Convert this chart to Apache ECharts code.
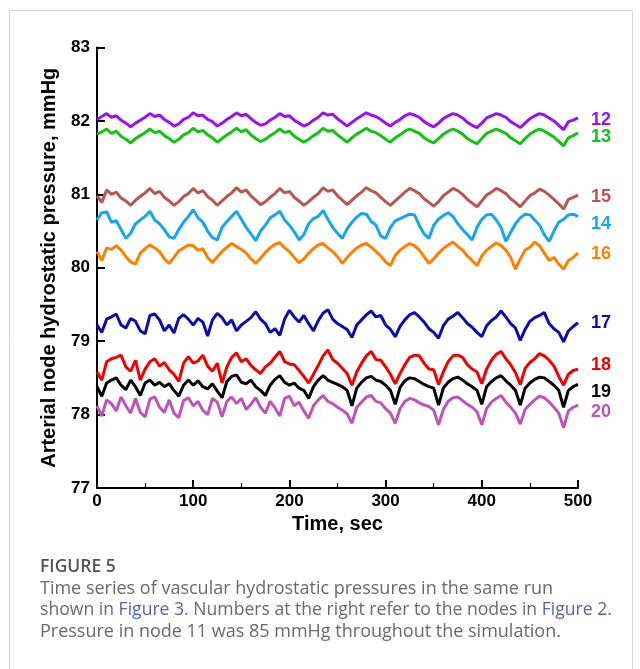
<!DOCTYPE html>
<html><head><meta charset="utf-8">
<script src="https://cdn.jsdelivr.net/npm/echarts@6/dist/echarts.min.js"></script>
<style>html,body{margin:0;padding:0;background:#fff}#c{width:640px;height:669px}</style>
</head><body><div id="c"></div>
<script>
const times = [0,5,10,15,20,25,30,35,40,45,50,55,60,65,70,75,80,85,90,95,
100,105,110,115,120,125,130,135,140,145,150,155,160,165,170,175,180,185,190,195,
200,205,210,215,220,225,230,235,240,245,250,255,260,265,270,275,280,285,290,295,
300,305,310,315,320,325,330,335,340,345,350,355,360,365,370,375,380,385,390,395,
400,405,410,415,420,425,430,435,440,445,450,455,460,465,470,475,480,485,490,495,500];

const node12 = [82.02,82.06,82.10,82.05,82.07,82.01,81.97,81.92,81.97,82.01,
82.05,82.10,82.06,82.08,82.02,81.98,81.93,81.96,82.02,82.05,
82.11,82.07,82.08,82.02,81.99,81.93,81.97,82.02,82.06,82.11,
82.07,82.09,82.03,81.98,81.94,81.96,82.01,82.05,82.10,82.06,
82.07,82.01,81.97,81.93,81.96,82.01,82.05,82.11,82.08,82.09,
82.03,81.98,81.93,81.98,82.03,82.07,82.11,82.08,82.06,82.02,
81.97,81.93,81.98,82.02,82.07,82.10,82.08,82.05,81.99,81.95,
81.92,81.97,82.03,82.07,82.10,82.08,82.04,81.98,81.94,81.91,
81.97,82.04,82.07,82.10,82.08,82.05,81.99,81.95,81.91,81.97,
82.03,82.07,82.10,82.08,82.04,82.00,81.94,81.88,81.99,82.01,82.04];

const node13 = [81.82,81.85,81.89,81.83,81.86,81.79,81.75,81.70,81.76,81.80,
81.84,81.89,81.84,81.86,81.80,81.76,81.71,81.75,81.81,81.84,
81.90,81.85,81.87,81.81,81.77,81.71,81.76,81.81,81.85,81.90,
81.85,81.88,81.81,81.76,81.72,81.75,81.80,81.84,81.89,81.84,
81.86,81.79,81.75,81.71,81.75,81.80,81.84,81.90,81.86,81.87,
81.81,81.76,81.71,81.77,81.82,81.86,81.90,81.86,81.84,81.80,
81.75,81.71,81.77,81.81,81.86,81.89,81.86,81.83,81.77,81.73,
81.70,81.76,81.82,81.86,81.89,81.86,81.82,81.76,81.72,81.69,
81.76,81.83,81.86,81.89,81.86,81.83,81.77,81.73,81.69,81.76,
81.82,81.86,81.89,81.86,81.82,81.78,81.72,81.66,81.77,81.80,81.84];

const node15 = [80.98,80.89,81.06,81.00,81.03,80.95,80.91,80.85,80.92,80.97,
81.02,81.08,81.01,81.04,80.96,80.91,80.85,80.90,80.97,81.01,
81.08,81.02,81.05,80.97,80.92,80.85,80.91,80.97,81.02,81.09,
81.03,81.06,80.98,80.92,80.86,80.90,80.96,81.01,81.08,81.02,
81.04,80.96,80.91,80.85,80.90,80.96,81.01,81.09,81.04,81.06,
80.98,80.92,80.86,80.92,80.98,81.03,81.09,81.05,81.02,80.96,
80.90,80.85,80.91,80.97,81.03,81.08,81.05,81.01,80.94,80.89,
80.84,80.90,80.98,81.03,81.08,81.05,81.00,80.93,80.88,80.83,
80.91,80.99,81.03,81.08,81.05,81.01,80.94,80.89,80.83,80.91,
80.98,81.02,81.07,81.04,80.99,80.93,80.87,80.80,80.93,80.96,80.99];

const node14 = [80.65,80.75,80.76,80.62,80.64,80.52,80.40,80.47,80.60,80.65,
80.70,80.77,80.65,80.60,80.52,80.42,80.40,80.52,80.62,80.70,
80.79,80.68,80.62,80.50,80.41,80.38,80.55,80.63,80.70,80.77,
80.66,80.55,80.46,80.37,80.50,80.58,80.68,80.72,80.77,80.65,
80.58,80.49,80.38,80.45,80.60,80.67,80.70,80.78,80.66,80.55,
80.47,80.40,80.53,80.62,80.69,80.74,80.73,80.63,80.58,80.43,
80.40,80.55,80.64,80.67,80.70,80.73,80.72,80.58,80.46,80.40,
80.58,80.66,80.71,80.75,80.70,80.60,80.52,80.45,80.38,80.55,
80.66,80.72,80.73,80.65,80.55,80.36,80.48,80.60,80.68,80.73,
80.72,80.65,80.58,80.45,80.36,80.50,80.62,80.66,80.72,80.73,80.70];

const node16 = [80.22,80.10,80.27,80.25,80.30,80.24,80.15,80.08,80.05,80.20,
80.26,80.31,80.27,80.22,80.12,80.06,80.14,80.23,80.27,80.31,
80.30,80.24,80.26,80.14,80.07,80.15,80.22,80.28,80.33,80.29,
80.25,80.20,80.12,80.06,80.13,80.21,80.27,80.32,80.34,80.27,
80.22,80.14,80.07,80.12,80.20,80.26,80.31,80.33,80.27,80.22,
80.15,80.06,80.14,80.21,80.27,80.31,80.33,80.28,80.22,80.16,
80.08,80.03,80.17,80.24,80.29,80.33,80.30,80.24,80.15,80.06,
80.12,80.20,80.26,80.31,80.35,80.29,80.24,80.16,80.10,80.03,
80.16,80.24,80.29,80.34,80.30,80.24,80.14,79.98,80.12,80.24,
80.28,80.35,80.30,80.20,80.10,80.14,80.05,79.98,80.10,80.14,80.20];

const node17 = [79.22,79.12,79.30,79.33,79.37,79.22,79.18,79.31,79.27,79.14,
79.10,79.35,79.37,79.29,79.14,79.22,79.11,79.31,79.36,79.30,
79.22,79.31,79.26,79.07,79.29,79.38,79.32,79.22,79.29,79.14,
79.22,79.27,79.32,79.40,79.30,79.24,79.12,79.17,79.08,79.30,
79.42,79.33,79.26,79.35,79.24,79.14,79.28,79.38,79.43,79.30,
79.24,79.20,79.16,79.05,79.22,79.29,79.36,79.41,79.33,79.35,
79.22,79.16,79.06,79.20,79.29,79.36,79.39,79.33,79.26,79.17,
79.12,79.04,79.21,79.30,79.34,79.39,79.32,79.24,79.19,79.12,
79.06,79.21,79.28,79.33,79.41,79.33,79.24,79.18,79.01,79.16,
79.27,79.32,79.35,79.39,79.24,79.17,79.12,78.99,79.14,79.20,79.25];

const node18 = [78.58,78.47,78.72,78.76,78.78,78.81,78.65,78.59,78.74,78.47,
78.62,78.72,78.76,78.66,78.71,78.61,78.55,78.45,78.70,78.79,
78.70,78.73,78.81,78.66,78.59,78.70,78.43,78.65,78.78,78.84,
78.72,78.76,78.67,78.61,78.56,78.65,78.70,78.78,78.86,78.72,
78.69,78.68,78.60,78.52,78.43,78.55,78.67,78.80,78.88,78.75,
78.70,78.63,78.56,78.40,78.58,78.70,78.80,78.86,78.75,78.74,
78.65,78.55,78.42,78.56,78.68,78.78,78.81,78.80,78.70,78.62,
78.61,78.41,78.58,78.72,78.80,78.81,78.78,78.68,78.62,78.58,
78.42,78.62,78.74,78.82,78.86,78.76,78.68,78.57,78.41,78.63,
78.71,78.76,78.83,78.80,78.74,78.66,78.52,78.40,78.55,78.60,78.62];

const node19 = [78.38,78.25,78.43,78.47,78.50,78.40,78.34,78.47,78.38,78.26,
78.43,78.47,78.40,78.44,78.38,78.42,78.33,78.25,78.40,78.47,
78.40,78.46,78.38,78.35,78.42,78.32,78.23,78.45,78.52,78.54,
78.44,78.42,78.47,78.38,78.33,78.26,78.40,78.48,78.53,78.44,
78.40,78.43,78.36,78.33,78.22,78.38,78.47,78.53,78.47,78.44,
78.41,78.38,78.33,78.12,78.36,78.44,78.50,78.52,78.47,78.45,
78.40,78.33,78.14,78.37,78.46,78.50,78.49,78.45,78.41,78.38,
78.36,78.13,78.36,78.44,78.49,78.51,78.47,78.42,78.38,78.33,
78.14,78.38,78.45,78.50,78.53,78.46,78.40,78.33,78.13,78.36,
78.43,78.48,78.51,78.50,78.45,78.40,78.33,78.10,78.33,78.38,78.41];

const node20 = [78.12,77.98,78.20,78.15,78.05,78.24,78.12,78.02,78.22,78.03,
77.97,78.21,78.24,78.10,78.03,78.20,78.02,77.96,78.19,78.23,
78.12,78.18,78.06,78.00,78.22,78.17,77.97,78.18,78.24,78.15,
78.22,78.07,78.14,78.23,78.10,78.02,78.18,78.09,77.98,78.22,
78.25,78.12,78.17,78.05,77.95,78.12,78.20,78.26,78.18,78.15,
78.10,78.06,78.01,77.88,78.10,78.17,78.24,78.26,78.18,78.16,
78.08,78.02,77.88,78.08,78.18,78.22,78.20,78.16,78.13,78.11,
78.06,77.86,78.07,78.18,78.23,78.24,78.19,78.14,78.10,78.04,
77.86,78.08,78.17,78.22,78.26,78.17,78.10,78.02,77.87,78.07,
78.14,78.20,78.25,78.23,78.17,78.10,78.02,77.82,78.05,78.10,78.13];

const nodeNames = ['12','13','15','14','16','17','18','19','20'];
const nodeValues = [node12,node13,node15,node14,node16,node17,node18,node19,node20];
const labelLevels = [82.01,81.78,80.97,80.59,80.19,79.25,78.67,78.31,78.04];
const colors = ['#9a12ee','#12c412','#b95652','#13a6f2','#ff8000','#0c0caa','#f20000','#000000','#bd55b9'];
const xTicks = {min:0, max:500, interval:100};
const yTicks = {min:77, max:83, interval:1};

const chart = echarts.init(document.getElementById('c'), null, {renderer:'canvas'});
const FONT = '"Liberation Sans", Arial, Helvetica, sans-serif';
const CAP = '"Open Sans", sans-serif';

const series = nodeNames.map((name, k) => ({
  type:'line', name:name, showSymbol:false, symbol:'none',
  data: times.map((t,i) => [t, nodeValues[k][i]]),
  lineStyle:{color:colors[k], width:3}, itemStyle:{color:colors[k]},
  z: 2, silent:true,
  markPoint:{
    symbol:'circle', symbolSize:0, silent:true, animation:false,
    itemStyle:{color:'transparent'},
    data:[{coord:[xTicks.max, labelLevels[k]]}],
    label:{show:true, position:'right', distance:13, formatter:name,
      color:colors[k], fontWeight:'bold', fontSize:18, fontFamily:FONT}
  }
}));

const axisCommon = {
  type:'value',
  axisLine:{show:true, onZero:false, lineStyle:{color:'#000', width:2}},
  axisTick:{show:true, inside:true, length:8, lineStyle:{color:'#000', width:2}},
  axisLabel:{color:'#000', fontWeight:'bold', fontSize:17, fontFamily:FONT},
  splitLine:{show:false},
  nameLocation:'middle',
  nameTextStyle:{color:'#000', fontWeight:'bold', fontSize:20, fontFamily:FONT}
};

chart.setOption({
  animation:false,
  backgroundColor:'#fff',
  grid:{left:97, right:62, top:47.5, bottom:181, containLabel:false},
  xAxis:Object.assign({}, axisCommon, {
    min:xTicks.min, max:xTicks.max, interval:xTicks.interval,
    name:'Time, sec', nameGap:20,
    minorTick:{show:true, splitNumber:2, length:5, lineStyle:{color:'#000', width:1.2}},
    axisLabel:Object.assign({}, axisCommon.axisLabel, {margin:5})
  }),
  yAxis:Object.assign({}, axisCommon, {
    min:yTicks.min, max:yTicks.max, interval:yTicks.interval,
    name:'Arterial node hydrostatic pressure, mmHg', nameGap:38,
    axisLabel:Object.assign({}, axisCommon.axisLabel, {margin:7})
  }),
  series:series,
  graphic:[
    {type:'rect', left:7, top:8, shape:{x:0,y:0,width:623,height:700},
     style:{fill:'none', stroke:'#d6d6d6', lineWidth:1}, silent:true, z:-10},
    {type:'text', left:40, top:558, style:{text:'FIGURE 5', font:'600 17.5px ' + CAP, fill:'#555'}},
    {type:'text', left:40, top:579.5, style:{text:'Time series of vascular hydrostatic pressures in the same run', font:'18px ' + CAP, fill:'#6a6a6a'}},
    {type:'text', left:40, top:601, style:{text:'shown in {a|Figure 3}. Numbers at the right refer to the nodes in {a|Figure 2}.', font:'17.6px ' + CAP, fill:'#6a6a6a', rich:{a:{fill:'#5663b4', font:'17.6px ' + CAP}}}},
    {type:'text', left:40, top:622.5, style:{text:'Pressure in node 11 was 85 mmHg throughout the simulation.', font:'18px ' + CAP, fill:'#6a6a6a'}}
  ]
});
</script>
</body></html>
